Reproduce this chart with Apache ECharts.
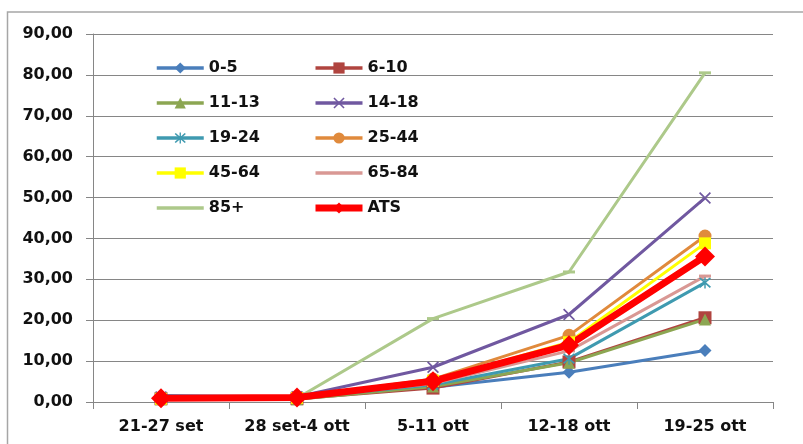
<!DOCTYPE html>
<html>
<head>
<meta charset="utf-8">
<script src="https://cdn.jsdelivr.net/npm/echarts@6/dist/echarts.min.js"></script>
<style>
  html, body { margin: 0; padding: 0; background: #fff; }
  #chart { width: 803px; height: 444px; }
</style>
</head>
<body>
<div id="chart"></div>
<script>
// Weekly incidence by age band
const categories = ['21-27 set', '28 set-4 ott', '5-11 ott', '12-18 ott', '19-25 ott'];
const yTicks = [0, 10, 20, 30, 40, 50, 60, 70, 80, 90];

const age0_5   = [1.6, 1.2, 3.6, 7.3, 12.6];
const age6_10  = [0.8, 0.8, 3.4, 9.8, 20.6];
const age11_13 = [0.7, 0.7, 3.8, 9.6, 20.2];
const age14_18 = [1.2, 1.3, 8.5, 21.4, 49.9];
const age19_24 = [1.0, 1.0, 4.2, 10.6, 29.2];
const age25_44 = [0.9, 1.1, 5.6, 16.3, 40.6];
const age45_64 = [0.8, 1.0, 5.2, 14.6, 38.8];
const age65_84 = [0.8, 0.9, 4.5, 12.5, 30.8];
const age85    = [0.6, 0.9, 20.4, 31.8, 80.5];
const ats      = [0.9, 1.1, 5.1, 13.9, 35.6];

const FONT = 'DejaVu Sans';
const crossPath = 'path://M0,1L1,0L5,4L9,0L10,1L6,5L10,9L9,10L5,6L1,10L0,9L4,5Z';
const starPath = 'path://M0,1.5L1,0.5L5,4L9,0.5L10,1.5L6,5L10,8.5L9,9.5L5,6L1,9.5L0,8.5L4,5Z M4.4,0L5.6,0L5.6,10L4.4,10Z';
const barIcon = 'path://M0,0L47,0L47,3.5L0,3.5Z';

const palette = {
  '0-5': '#4A7EBB', '6-10': '#B0443F', '11-13': '#8CA652', '14-18': '#7058A0',
  '19-24': '#3F9AB0', '25-44': '#E08A3C', '45-64': '#FFFF00', '65-84': '#D99894',
  '85+': '#ADC98A', 'ATS': '#FF0000'
};

function line(name, data, symbol, symbolSize, width) {
  const color = palette[name];
  return {
    name, type: 'line', data,
    symbol, symbolSize,
    lineStyle: { color, width: width || 3 },
    itemStyle: { color, borderWidth: 0 },
    emphasis: { disabled: true },
    animation: false
  };
}

const series = [
  line('0-5',   age0_5,   'diamond', 13),
  line('6-10',  age6_10,  'rect', 13),
  line('11-13', age11_13, 'triangle', 12),
  line('14-18', age14_18, crossPath, 12),
  line('19-24', age19_24, starPath, 12),
  line('25-44', age25_44, 'circle', 13),
  line('45-64', age45_64, 'rect', 12),
  line('65-84', age65_84, 'rect', [12, 3]),
  line('85+',   age85,    'rect', [12, 3]),
  line('ATS',   ats,      'diamond', 20, 7)
];

// Legend entries: plain bar for the marker-less bands, thicker stroke for ATS
function legendItem(name) {
  const item = { name, lineStyle: { width: name === 'ATS' ? 7 : 3.5 } };
  if (name === '65-84' || name === '85+') {
    item.icon = barIcon;
    item.itemStyle = { color: palette[name] };
  }
  return item;
}

const legendText = { fontFamily: FONT, fontWeight: 'bold', fontSize: 16, color: '#111', lineHeight: 18 };
function legendCol(left, names) {
  return {
    orient: 'vertical', left, top: 59, padding: 0,
    itemWidth: 47, itemHeight: 14, itemGap: 17, symbolKeepAspect: true,
    textStyle: legendText, data: names.map(legendItem), selectedMode: false
  };
}

const chart = echarts.init(document.getElementById('chart'), null, { renderer: 'canvas' });
chart.setOption({
  backgroundColor: '#ffffff',
  animation: false,
  grid: { left: 93, right: 30, top: 34, bottom: 42 },
  legend: [
    legendCol(155, ['0-5', '11-13', '19-24', '45-64', '85+']),
    legendCol(312, ['6-10', '14-18', '25-44', '65-84', 'ATS'])
  ],
  xAxis: {
    type: 'category', data: categories, boundaryGap: true,
    axisLine: { lineStyle: { color: '#868686', width: 1 } },
    axisTick: { show: true, length: 7, alignWithLabel: false, lineStyle: { color: '#868686' } },
    axisLabel: { fontFamily: FONT, fontWeight: 'bold', fontSize: 16, color: '#111', margin: 17, interval: 0 }
  },
  yAxis: {
    type: 'value', min: yTicks[0], max: yTicks[yTicks.length - 1], interval: 10,
    axisLine: { show: true, lineStyle: { color: '#868686', width: 1 } },
    axisTick: { show: true, length: 7, lineStyle: { color: '#868686' } },
    splitLine: { lineStyle: { color: '#868686', width: 1 } },
    axisLabel: {
      fontFamily: FONT, fontWeight: 'bold', fontSize: 16, color: '#111', margin: 20,
      formatter: v => v.toFixed(2).replace('.', ',')
    }
  },
  graphic: [
    {
      type: 'polyline',
      shape: { points: [[7.5, 444], [7.5, 12], [803, 12]] },
      style: { stroke: '#a6a6a6', lineWidth: 1.5, fill: null }
    }
  ],
  series
});
</script>
</body>
</html>
